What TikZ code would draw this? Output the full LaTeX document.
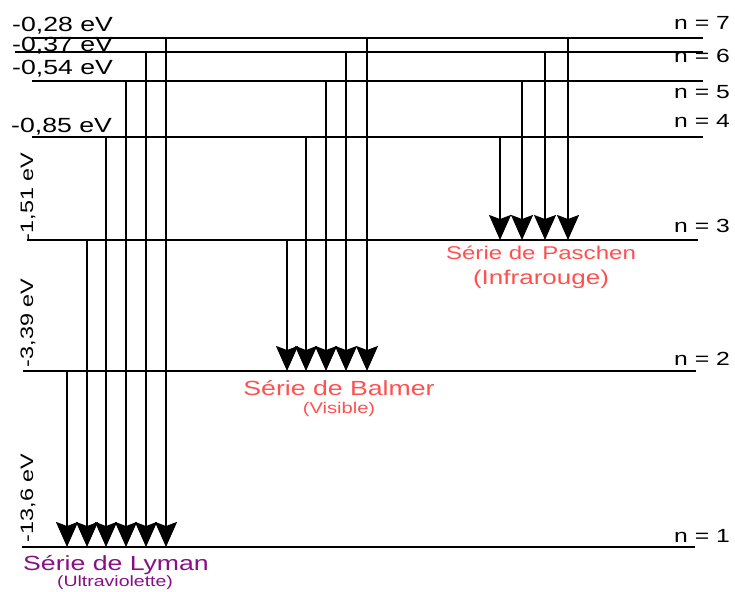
\documentclass[tikz,border=0pt]{standalone}
\usepackage{fontspec}
\setmainfont{Liberation Sans}[FakeStretch=1.3]
\usetikzlibrary{arrows.meta}
\definecolor{lymancol}{RGB}{135,15,135}
\definecolor{seriescol}{RGB}{255,80,80}

\begin{document}
\begin{tikzpicture}[x=1pt,y=-1pt,
  level/.style={line width=1.8pt},
  photon/.style={line width=1.8pt,-{Stealth[length=25pt,width=22pt,inset=4pt]}},
  evlabel/.style={font=\fontsize{20.5}{22}\selectfont,anchor=base west,inner sep=0pt},
  evrot/.style={font=\fontsize{18}{20}\selectfont,rotate=90,inner sep=0pt},
  nlabel/.style={font=\fontsize{19}{21}\selectfont,anchor=base east,inner sep=0pt},
  serie/.style={inner sep=0pt}]
\useasboundingbox (0,0) rectangle (735,591);
% Energy levels
\foreach \n/\y/\xa/\xb in {1/547/22/695,2/371/23/696,3/240/27/698,
    4/137/32/703,5/81/32/703,6/52/15/703,7/38/32/703}{
  \coordinate (n\n w) at (\xa,\y);
  \coordinate (n\n e) at (\xb,\y);
  \draw[level] (n\n w) -- (n\n e);
}
% Level numbers
\node[nlabel] (l7) at (730,30)  {n = 7};
\node[nlabel] (l6) at (730,63)  {n = 6};
\node[nlabel] (l5) at (730,99)  {n = 5};
\node[nlabel] (l4) at (730,127) {n = 4};
\node[nlabel] (l3) at (730,232) {n = 3};
\node[nlabel] (l2) at (730,365) {n = 2};
\node[nlabel] (l1) at (730,542) {n = 1};
% Energies
\node[evlabel] (e7) at (12,32)  {-0,28 eV};
\node[evlabel] (e6) at (12,52)  {-0,37 eV};
\node[evlabel] (e5) at (12,75)  {-0,54 eV};
\node[evlabel] (e4) at (11,132) {-0,85 eV};
\node[evrot] (e3) at (28,197) {-1,51 eV};
\node[evrot] (e2) at (28,323) {-3,39 eV};
\node[evrot] (e1) at (28,498) {-13,6 eV};
% Lyman
\foreach \x/\k in {67/2,87/3,106/4,126/5,146/6,166/7}
  \draw[photon] (\x,0 |- n\k w) -- (\x,0 |- n1w);
% Balmer
\foreach \x/\k in {287/3,306/4,326/5,346/6,367/7}
  \draw[photon] (\x,0 |- n\k w) -- (\x,0 |- n2w);
% Paschen
\foreach \x/\k in {500/4,522/5,545/6,568/7}
  \draw[photon] (\x,0 |- n\k w) -- (\x,0 |- n3w);
% Series names
\node[serie,seriescol,font=\fontsize{18.5}{20}\selectfont] (pa) at (541,253) {Série de Paschen};
\node[serie,seriescol,font=\fontsize{20}{22}\selectfont] (pai) at (541,279) {(Infrarouge)};
\node[serie,seriescol,font=\fontsize{20.5}{22}\selectfont] (ba) at (339,388) {Série de Balmer};
\node[serie,seriescol,font=\fontsize{15.5}{17}\selectfont] (bav) at (339,409) {(Visible)};
\node[serie,lymancol,font=\fontsize{20.5}{22}\selectfont] (ly) at (116,565) {Série de Lyman};
\node[serie,lymancol,font=\fontsize{15}{17}\selectfont] (lyu) at (115,583) {(Ultraviolette)};
\end{tikzpicture}
\end{document}
